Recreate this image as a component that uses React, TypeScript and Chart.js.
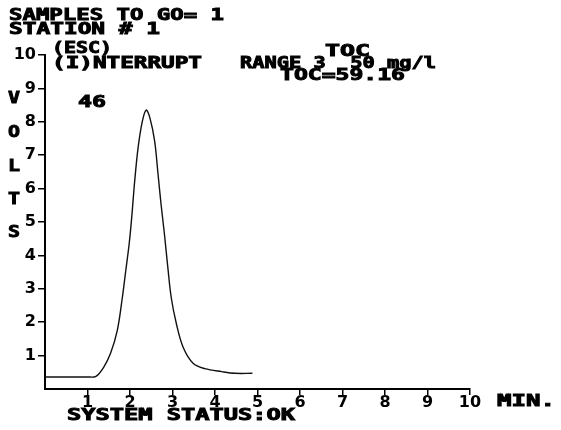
import React, { useEffect, useRef } from "react";
import { Chart, registerables } from "chart.js";

Chart.register(...registerables);

// Chromatogram trace (time in minutes, signal in volts)
const timeMin = [0, 1.0, 1.2, 1.38, 1.54, 1.70, 1.82, 1.90, 1.98, 2.04, 2.11, 2.19, 2.29, 2.38, 2.47, 2.58, 2.66, 2.73, 2.81, 2.89, 2.97, 3.09, 3.25, 3.49, 3.76, 4.16, 4.47, 4.88];
const volts = [0.36, 0.36, 0.38, 0.65, 1.06, 1.75, 2.74, 3.54, 4.34, 5.13, 6.22, 7.22, 8.01, 8.35, 8.11, 7.42, 6.43, 5.54, 4.64, 3.64, 2.74, 1.96, 1.25, 0.76, 0.61, 0.52, 0.47, 0.47];

const xTicks = [1, 2, 3, 4, 5, 6, 7, 8, 9, 10];
const yTicks = [1, 2, 3, 4, 5, 6, 7, 8, 9, 10];

const headerLines = ["SAMPLES TO GO= 1", "STATION # 1", "(ESC)", "(I)NTERRUPT", "RANGE 3  50 mg/l", "TOC", "TOC=59.16"];
const peakLabel = "46";
const statusText = "SYSTEM STATUS:OK";
const xUnit = "MIN.";
const yTitleLetters = ["V", "O", "L", "T", "S"];

const FONT = "'DejaVu Sans Mono', 'Liberation Mono', monospace";
const TICK_FONT = "'DejaVu Sans', 'Liberation Sans', sans-serif";

export default function App() {
  const ref = useRef<HTMLCanvasElement | null>(null);

  useEffect(() => {
    const canvas = ref.current;
    if (!canvas) return;

    const drawFit = (ctx: CanvasRenderingContext2D, text: string, x0: number, x1: number, yc: number, size = 15) => {
      ctx.save();
      ctx.font = `bold ${size}px ${FONT}`;
      ctx.textBaseline = "middle";
      ctx.textAlign = "left";
      ctx.fillStyle = "#000";
      ctx.strokeStyle = "#000";
      ctx.lineWidth = 0.9;
      const w = ctx.measureText(text).width;
      const sx = (x1 - x0) / w;
      ctx.translate(x0, yc);
      ctx.scale(sx, 1);
      ctx.fillText(text, 0, 0);
      ctx.strokeText(text, 0, 0);
      ctx.restore();
    };

    const textPlugin = {
      id: "screenText",
      afterDraw(chart: any) {
        const ctx = chart.ctx as CanvasRenderingContext2D;
        drawFit(ctx, headerLines[0], 9, 224, 16);
        drawFit(ctx, headerLines[1], 9, 160, 30);
        drawFit(ctx, headerLines[2], 52, 112, 49);
        drawFit(ctx, headerLines[3], 52, 202, 64);
        drawFit(ctx, headerLines[4], 240, 436, 64);
        drawFit(ctx, headerLines[5], 325, 370, 52);
        drawFit(ctx, headerLines[6], 280, 405, 76);
        drawFit(ctx, peakLabel, 78, 106, 103);
        drawFit(ctx, statusText, 67, 295, 416);
        drawFit(ctx, xUnit, 497, 555, 402);
        const ys = [99, 133, 167, 200, 233];
        yTitleLetters.forEach((l, i) => drawFit(ctx, l, 8, 20, ys[i], 16));
      },
    };

    const tickFont = { family: TICK_FONT, size: 16, weight: "bold" as const, lineHeight: 1.1 };

    const chart = new Chart(canvas, {
      type: "line",
      data: {
        datasets: [
          {
            data: timeMin.map((t, i) => ({ x: t, y: volts[i] })),
            borderColor: "#111",
            borderWidth: 1.4,
            pointRadius: 0,
            tension: 0.35,
            fill: false,
          },
        ],
      },
      options: {
        animation: false,
        responsive: false,
        maintainAspectRatio: false,
        layout: { padding: { left: 0, top: 55, right: 91, bottom: 0 } },
        plugins: { legend: { display: false }, tooltip: { enabled: false } },
        scales: {
          x: {
            type: "linear",
            min: 0,
            max: 10,
            afterFit(s: any) {
              s.height = 41;
            },
            afterBuildTicks(s: any) {
              s.ticks = xTicks.map((v) => ({ value: v }));
            },
            ticks: { font: tickFont, color: "#000", padding: -1, maxRotation: 0, autoSkip: false },
            grid: { drawOnChartArea: false, tickLength: 6, color: "#000", lineWidth: 1.5 },
            border: { color: "#000", width: 2 },
          },
          y: {
            min: 0,
            max: 10,
            afterFit(s: any) {
              s.width = 45;
            },
            afterBuildTicks(s: any) {
              s.ticks = yTicks.map((v) => ({ value: v }));
            },
            ticks: { font: tickFont, color: "#000", padding: 2, autoSkip: false },
            grid: { drawOnChartArea: false, tickLength: 7, color: "#000", lineWidth: 1.5 },
            border: { color: "#000", width: 2 },
          },
        },
      },
      plugins: [textPlugin],
    });
    return () => chart.destroy();
  }, []);

  return (
    <div style={{ position: "fixed", left: 0, top: 0, width: 561, height: 430, background: "#fff" }}>
      <canvas ref={ref} width={561} height={430} style={{ width: 561, height: 430 }} />
    </div>
  );
}
